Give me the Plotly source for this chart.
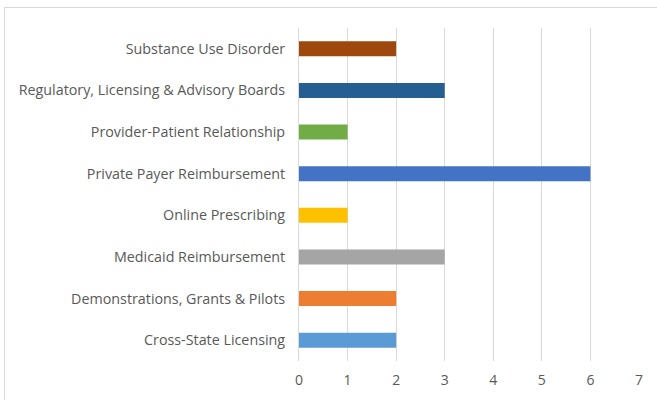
import plotly.graph_objects as go

categories = [
    "Cross-State Licensing",
    "Demonstrations, Grants & Pilots",
    "Medicaid Reimbursement",
    "Online Prescribing",
    "Private Payer Reimbursement",
    "Provider-Patient Relationship",
    "Regulatory, Licensing & Advisory Boards",
    "Substance Use Disorder",
]
values = [2, 2, 3, 1, 6, 1, 3, 2]
colors = ["#5B9BD5", "#ED7D31", "#A5A5A5", "#FFC000", "#4472C4", "#70AD47", "#255E91", "#9E480E"]
x_ticks = [0, 1, 2, 3, 4, 5, 6, 7]

W, H = 657, 400
L, R, T, B = 299, 18, 28, 39

fig = go.Figure(go.Bar(
    x=values, y=categories, orientation="h",
    marker=dict(color=colors, line=dict(width=0)),
))

pw = W - L - R
ph = H - T - B
def px_to_paper_x(px):
    return (px - L) / pw
def px_to_paper_y(py):
    return 1 - (py - T) / ph

border = "#d9d9d9"
fig.add_shape(type="line", xref="paper", yref="paper",
              x0=px_to_paper_x(4.5), x1=px_to_paper_x(4.5),
              y0=px_to_paper_y(7), y1=px_to_paper_y(405),
              line=dict(color=border, width=1))
fig.add_shape(type="line", xref="paper", yref="paper",
              x0=px_to_paper_x(4.5), x1=px_to_paper_x(665),
              y0=px_to_paper_y(7.5), y1=px_to_paper_y(7.5),
              line=dict(color=border, width=1))

fig.update_layout(
    width=W, height=H,
    margin=dict(l=L, r=R, t=T, b=B),
    paper_bgcolor="white", plot_bgcolor="white",
    bargap=0.64,
    showlegend=False,
    font=dict(family="Open Sans, Liberation Sans, sans-serif", size=14, color="#595959"),
    xaxis=dict(
        range=[0, 7], tickvals=x_ticks, showgrid=True, gridcolor="#d9d9d9", gridwidth=1,
        zeroline=False, showline=False, ticks="outside", ticklen=6, tickcolor="rgba(0,0,0,0)",
        tickfont=dict(size=14, color="#595959"), fixedrange=True,
    ),
    yaxis=dict(
        categoryorder="array", categoryarray=categories,
        showline=True, linecolor="#d9d9d9", linewidth=1, showgrid=False,
        ticks="outside", ticklen=10, tickcolor="rgba(0,0,0,0)",
        tickfont=dict(size=14.3, color="#595959"),
    ),
)

fig.write_html(
    "out.html",
    config={"displayModeBar": False},
    post_script="document.body.style.margin='0';document.body.style.overflow='hidden';",
)
